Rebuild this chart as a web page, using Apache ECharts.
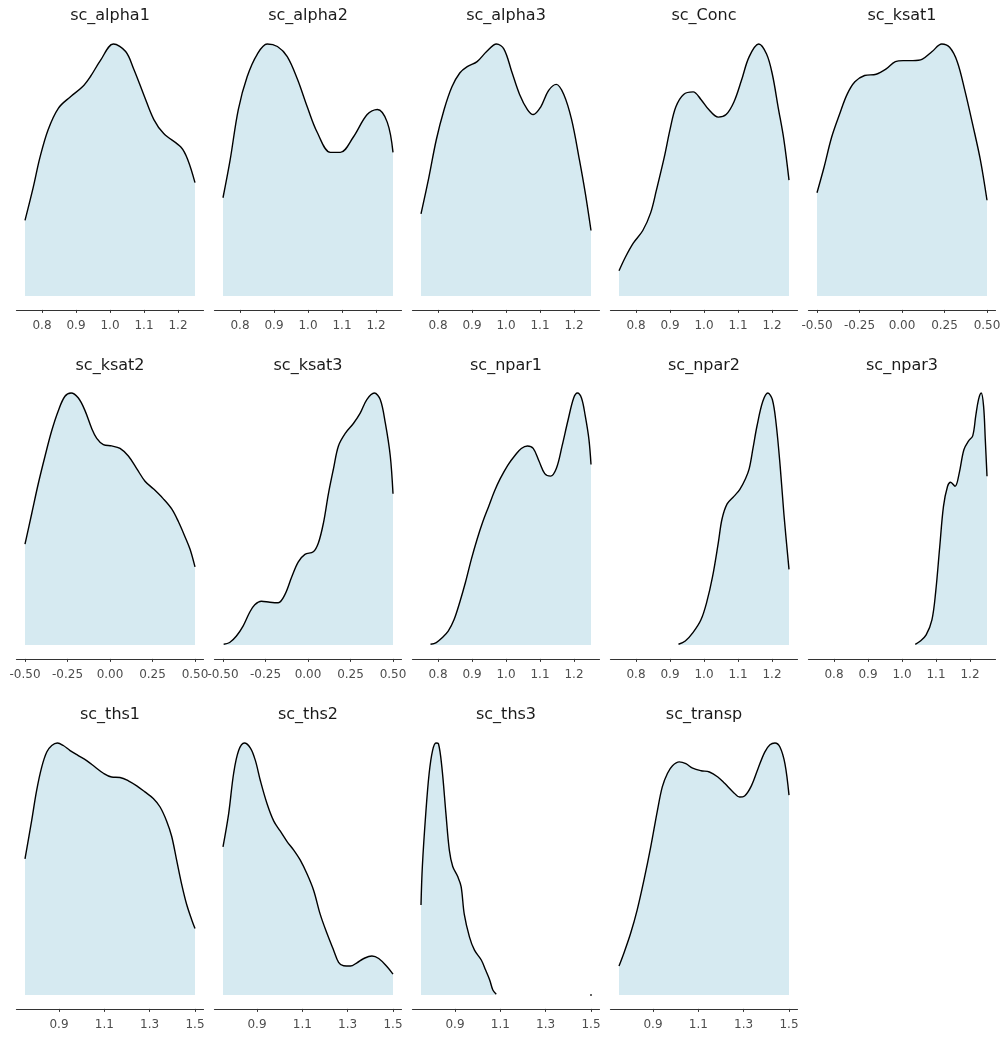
<!DOCTYPE html>
<html>
<head>
<meta charset="utf-8">
<title>Density of scaling factors</title>
<script src="https://cdn.jsdelivr.net/npm/echarts@6/dist/echarts.min.js"></script>
<style>
  html, body { margin: 0; padding: 0; background: #ffffff; }
  #chart { width: 1004px; height: 1041px; }
</style>
</head>
<body>
<div id="chart"></div>
<script>
// Relative density curves (peak scaled to 1) for each calibration factor: [value, density]
const sc_alpha1 = [[0.75,0.30],[0.774,0.43],[0.794,0.55],[0.818,0.66],[0.848,0.745],[0.883,0.79],[0.919,0.83],[0.942,0.87],[0.972,0.935],[1.01,1.0],[1.046,0.97],[1.07,0.90],[1.099,0.80],[1.129,0.70],[1.158,0.645],[1.209,0.59],[1.229,0.54],[1.25,0.45]];
const sc_alpha2 = [[0.75,0.39],[0.771,0.54],[0.795,0.74],[0.821,0.87],[0.851,0.96],[0.88,1.0],[0.91,0.99],[0.939,0.95],[0.969,0.86],[0.998,0.75],[1.027,0.65],[1.066,0.57],[1.095,0.57],[1.133,0.63],[1.174,0.72],[1.204,0.74],[1.233,0.69],[1.25,0.57]];
const sc_alpha3 = [[0.75,0.326],[0.773,0.47],[0.795,0.62],[0.818,0.74],[0.841,0.83],[0.864,0.885],[0.886,0.91],[0.915,0.93],[0.943,0.97],[0.972,1.0],[0.994,0.98],[1.017,0.89],[1.04,0.80],[1.063,0.74],[1.08,0.72],[1.102,0.75],[1.125,0.815],[1.148,0.84],[1.17,0.80],[1.193,0.70],[1.216,0.54],[1.233,0.41],[1.25,0.26]];
const sc_Conc = [[0.75,0.10],[0.769,0.155],[0.792,0.21],[0.82,0.26],[0.843,0.33],[0.86,0.42],[0.883,0.55],[0.9,0.66],[0.917,0.75],[0.94,0.80],[0.968,0.81],[0.991,0.78],[1.014,0.74],[1.042,0.71],[1.065,0.72],[1.088,0.77],[1.11,0.855],[1.133,0.95],[1.161,1.0],[1.184,0.96],[1.201,0.88],[1.218,0.75],[1.235,0.62],[1.25,0.46]];
const sc_ksat1 = [[-0.5,0.41],[-0.459,0.51],[-0.414,0.63],[-0.368,0.72],[-0.323,0.80],[-0.277,0.85],[-0.22,0.875],[-0.152,0.88],[-0.095,0.90],[-0.039,0.93],[0.007,0.934],[0.064,0.934],[0.12,0.94],[0.177,0.97],[0.234,1.0],[0.28,0.987],[0.325,0.93],[0.37,0.815],[0.416,0.68],[0.461,0.54],[0.5,0.38]];
const sc_ksat2 = [[-0.5,0.40],[-0.461,0.52],[-0.422,0.64],[-0.382,0.75],[-0.343,0.85],[-0.304,0.93],[-0.265,0.987],[-0.229,1.0],[-0.186,0.98],[-0.147,0.93],[-0.108,0.86],[-0.078,0.82],[-0.039,0.795],[0.01,0.79],[0.059,0.78],[0.108,0.75],[0.157,0.70],[0.206,0.65],[0.255,0.62],[0.314,0.58],[0.363,0.54],[0.402,0.49],[0.441,0.43],[0.471,0.38],[0.5,0.31]];
const sc_ksat3 = [[-0.496,0.003],[-0.461,0.01],[-0.421,0.036],[-0.382,0.075],[-0.343,0.13],[-0.313,0.16],[-0.274,0.174],[-0.224,0.17],[-0.175,0.168],[-0.136,0.20],[-0.096,0.27],[-0.057,0.33],[-0.018,0.36],[0.031,0.37],[0.061,0.405],[0.091,0.485],[0.12,0.60],[0.15,0.70],[0.179,0.79],[0.219,0.84],[0.268,0.88],[0.307,0.92],[0.346,0.974],[0.39,1.0],[0.425,0.974],[0.455,0.88],[0.484,0.75],[0.5,0.60]];
const sc_npar1 = [[0.778,0.003],[0.795,0.01],[0.813,0.03],[0.83,0.055],[0.847,0.10],[0.864,0.17],[0.881,0.25],[0.898,0.34],[0.915,0.42],[0.932,0.49],[0.949,0.55],[0.966,0.61],[0.983,0.66],[1.006,0.715],[1.028,0.755],[1.045,0.78],[1.063,0.79],[1.08,0.78],[1.097,0.73],[1.114,0.68],[1.131,0.67],[1.148,0.70],[1.165,0.79],[1.182,0.89],[1.199,0.98],[1.21,1.0],[1.222,0.98],[1.233,0.91],[1.244,0.815],[1.25,0.716]];
const sc_npar2 = [[0.925,0.003],[0.945,0.016],[0.968,0.05],[0.991,0.10],[1.008,0.17],[1.025,0.27],[1.042,0.405],[1.053,0.50],[1.068,0.56],[1.088,0.59],[1.105,0.617],[1.122,0.66],[1.133,0.70],[1.144,0.78],[1.156,0.87],[1.173,0.967],[1.188,1.0],[1.201,0.974],[1.212,0.88],[1.224,0.71],[1.235,0.52],[1.25,0.30]];
const sc_npar3 = [[1.039,0.003],[1.054,0.016],[1.071,0.04],[1.088,0.10],[1.099,0.21],[1.111,0.39],[1.122,0.55],[1.134,0.63],[1.143,0.646],[1.156,0.63],[1.168,0.68],[1.182,0.775],[1.196,0.81],[1.208,0.83],[1.217,0.91],[1.225,0.974],[1.233,1.0],[1.24,0.947],[1.245,0.815],[1.25,0.67]];
const sc_ths1 = [[0.75,0.54],[0.779,0.69],[0.801,0.81],[0.824,0.905],[0.846,0.964],[0.868,0.99],[0.893,1.0],[0.919,0.99],[0.949,0.97],[0.985,0.95],[1.022,0.93],[1.059,0.905],[1.096,0.88],[1.132,0.865],[1.169,0.863],[1.206,0.85],[1.243,0.83],[1.279,0.806],[1.316,0.78],[1.346,0.746],[1.375,0.69],[1.397,0.63],[1.419,0.535],[1.441,0.44],[1.463,0.36],[1.485,0.30],[1.5,0.264]];
const sc_ths2 = [[0.75,0.588],[0.775,0.72],[0.797,0.88],[0.819,0.97],[0.844,1.0],[0.871,0.98],[0.893,0.93],[0.915,0.85],[0.944,0.76],[0.974,0.69],[1.003,0.65],[1.032,0.61],[1.062,0.575],[1.091,0.535],[1.121,0.48],[1.15,0.415],[1.179,0.32],[1.209,0.244],[1.238,0.178],[1.26,0.13],[1.282,0.116],[1.312,0.115],[1.341,0.128],[1.371,0.145],[1.407,0.155],[1.437,0.145],[1.474,0.112],[1.5,0.083]];
const sc_ths3 = [[0.75,0.357],[0.756,0.51],[0.771,0.72],[0.786,0.88],[0.801,0.97],[0.816,1.0],[0.827,0.997],[0.842,0.905],[0.86,0.72],[0.875,0.575],[0.89,0.51],[0.912,0.47],[0.927,0.43],[0.941,0.32],[0.964,0.23],[0.986,0.178],[1.016,0.139],[1.035,0.099],[1.053,0.06],[1.067,0.02],[1.082,0.003]];
const sc_ths3_tail = [[1.5,0]];
const sc_transp = [[0.75,0.115],[0.771,0.165],[0.801,0.244],[0.83,0.337],[0.86,0.456],[0.89,0.588],[0.919,0.73],[0.941,0.826],[0.964,0.88],[0.986,0.91],[1.016,0.925],[1.045,0.918],[1.075,0.90],[1.112,0.89],[1.149,0.885],[1.186,0.865],[1.216,0.84],[1.253,0.806],[1.282,0.786],[1.304,0.79],[1.334,0.83],[1.364,0.90],[1.393,0.964],[1.416,0.993],[1.438,1.0],[1.46,0.984],[1.482,0.918],[1.5,0.793]];

// Panel names, in facet order
const panelNames = ['sc_alpha1','sc_alpha2','sc_alpha3','sc_Conc','sc_ksat1','sc_ksat2','sc_ksat3','sc_npar1','sc_npar2','sc_npar3','sc_ths1','sc_ths2','sc_ths3','sc_transp'];
const panelData = [sc_alpha1, sc_alpha2, sc_alpha3, sc_Conc, sc_ksat1, sc_ksat2, sc_ksat3, sc_npar1, sc_npar2, sc_npar3, sc_ths1, sc_ths2, sc_ths3, sc_transp];
const panelScale = ['a','a','a','a','k','k','k','a','a','a','t','t','t','t'];

// Tick values for each x scale
const ticksA = [0.8, 0.9, 1.0, 1.1, 1.2];
const ticksK = [-0.5, -0.25, 0, 0.25, 0.5];
const ticksT = [0.9, 1.1, 1.3, 1.5];

// Data limits of each scale (padded by 5% on both sides on the axis)
const scales = {
  a: { lo: 0.75, hi: 1.25, ticks: ticksA, digits: 1 },
  k: { lo: -0.5, hi: 0.5, ticks: ticksK, digits: 2 },
  t: { lo: 0.75, hi: 1.5, ticks: ticksT, digits: 1 }
};

const FILL = 'rgb(214,234,241)';
const FONT = '"DejaVu Sans", "Liberation Sans", Arial, sans-serif';

const colLeft0 = 16.5, colStep = 198, panelW = 187;
const rowTops = [31.4, 380.4, 730.4];
const panelH = 278.5;
const titleY = [16, 366, 715];

const grids = [], xAxes = [], yAxes = [], series = [], graphics = [];

panelNames.forEach(function (name, i) {
  const c = i % 5, r = Math.floor(i / 5);
  const left = colLeft0 + c * colStep;
  const s = scales[panelScale[i]];
  const pad = (s.hi - s.lo) * 0.05;

  grids.push({ left: left, top: rowTops[r], width: panelW, height: panelH });

  xAxes.push({
    type: 'value', gridIndex: i,
    min: s.lo - pad, max: s.hi + pad,
    splitLine: { show: false },
    axisLine: { show: true, onZero: false, lineStyle: { color: '#333333', width: 1.2 } },
    axisTick: { show: true, length: 3, customValues: s.ticks, lineStyle: { color: '#333333', width: 1 } },
    axisLabel: {
      customValues: s.ticks, margin: 10, color: '#4d4d4d', fontSize: 12, fontFamily: FONT,
      formatter: (function (d) { return function (v) { return Number(v).toFixed(d); }; })(s.digits)
    }
  });

  yAxes.push({ type: 'value', gridIndex: i, min: -0.055, max: 1.05, show: false });

  series.push({
    type: 'line', xAxisIndex: i, yAxisIndex: i,
    data: panelData[i], smooth: 0.35, symbol: 'none', silent: true,
    lineStyle: { color: '#000000', width: 1.4 },
    areaStyle: { color: FILL, opacity: 1, origin: 0 }
  });

  graphics.push({
    type: 'text', x: left + panelW / 2, y: titleY[r], silent: true,
    style: { text: name, fill: '#1a1a1a', font: '16px ' + FONT, textAlign: 'center', textVerticalAlign: 'middle' }
  });
});

// isolated zero-density point at the upper limit of sc_ths3
series.push({
  type: 'scatter', xAxisIndex: 12, yAxisIndex: 12, data: sc_ths3_tail,
  symbol: 'circle', symbolSize: 2, silent: true, itemStyle: { color: '#000000' }
});

const chart = echarts.init(document.getElementById('chart'), null, { renderer: 'canvas' });
chart.setOption({
  animation: false,
  backgroundColor: '#ffffff',
  grid: grids,
  xAxis: xAxes,
  yAxis: yAxes,
  series: series,
  graphic: graphics
});
</script>
</body>
</html>
